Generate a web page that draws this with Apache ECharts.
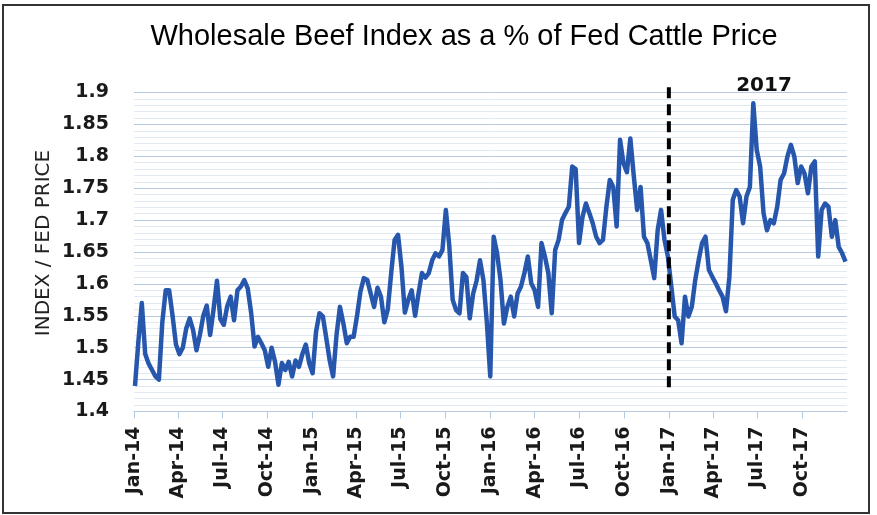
<!DOCTYPE html>
<html>
<head>
<meta charset="utf-8">
<script src="https://cdn.jsdelivr.net/npm/echarts@6/dist/echarts.min.js"></script>
<style>
html,body{margin:0;padding:0;background:#fff;}
#chart{width:877px;height:515px;}
</style>
</head>
<body>
<div id="chart"></div>
<script>
// Weekly observations, first week ending Fri 3 Jan 2014 (day 2 counted from 1 Jan 2014)
const firstWeekDay = 2;
const weekStep = 7;
const ratio = [
  1.44, 1.51, 1.57, 1.49, 1.475, 1.465, 1.455, 1.45, 1.54, 1.59, 1.59, 1.55, 1.505,
  1.49, 1.50, 1.53, 1.546, 1.528, 1.496, 1.52, 1.55, 1.566, 1.52, 1.56, 1.605, 1.545,
  1.536, 1.565, 1.58, 1.543, 1.59, 1.596, 1.606, 1.593, 1.555, 1.502, 1.517, 1.507, 1.496,
  1.47, 1.50, 1.478, 1.442, 1.476, 1.465, 1.478, 1.455, 1.48, 1.47, 1.49, 1.505, 1.476,
  1.46, 1.525, 1.554, 1.549, 1.515, 1.48, 1.455, 1.52, 1.564, 1.538, 1.507, 1.517, 1.517,
  1.55, 1.588, 1.609, 1.606, 1.585, 1.564, 1.594, 1.58, 1.54, 1.56, 1.617, 1.669, 1.677,
  1.627, 1.555, 1.575, 1.59, 1.55, 1.585, 1.617, 1.61, 1.617, 1.637, 1.648, 1.643, 1.653,
  1.716, 1.66, 1.575, 1.559, 1.554, 1.617, 1.611, 1.546, 1.585, 1.605, 1.637, 1.606, 1.54,
  1.455, 1.674, 1.648, 1.606, 1.538, 1.564, 1.58, 1.549, 1.585, 1.596, 1.617, 1.643, 1.601,
  1.59, 1.564, 1.664, 1.643, 1.617, 1.554, 1.653, 1.669, 1.70, 1.711, 1.721, 1.784, 1.78,
  1.664, 1.705, 1.726, 1.711, 1.695, 1.674, 1.664, 1.669, 1.721, 1.763, 1.752, 1.69, 1.826,
  1.789, 1.775, 1.828, 1.77, 1.716, 1.752, 1.674, 1.664, 1.637, 1.609, 1.684, 1.716, 1.669,
  1.643, 1.596, 1.549, 1.543, 1.507, 1.58, 1.549, 1.564, 1.606, 1.637, 1.664, 1.674, 1.622,
  1.611, 1.601, 1.59, 1.58, 1.557, 1.611, 1.732, 1.747, 1.737, 1.695, 1.737, 1.752, 1.883,
  1.81, 1.784, 1.711, 1.684, 1.70, 1.695, 1.721, 1.763, 1.773, 1.80, 1.818, 1.80, 1.758,
  1.784, 1.773, 1.742, 1.784, 1.792, 1.643, 1.716, 1.726, 1.721, 1.674, 1.70, 1.658, 1.648, 1.635
];
// Quarter starts, days counted from 1 Jan 2014
const tickDays = [0, 90, 181, 273, 365, 455, 546, 638, 730, 821, 912, 1004, 1096, 1186, 1277, 1369];
const tickLabels = ['Jan-14','Apr-14','Jul-14','Oct-14','Jan-15','Apr-15','Jul-15','Oct-15',
                    'Jan-16','Apr-16','Jul-16','Oct-16','Jan-17','Apr-17','Jul-17','Oct-17'];
const axisEndDay = 1461;
const yMin = 1.4, yMax = 1.9, yStep = 0.05;
const markerDay = 1096;          // 1 Jan 2017
const markerRange = [1.438, 1.909];
const markerText = '2017';

const seriesData = ratio.map((v, i) => [firstWeekDay + weekStep * i, v]);
const markerData = [[markerDay, markerRange[0]], [markerDay, markerRange[1]]];
const labelMap = {};
tickDays.forEach((d, i) => { labelMap[d] = tickLabels[i]; });

const chart = echarts.init(document.getElementById('chart'), null, {renderer: 'canvas'});
const gridColor = '#b3cadf';
const minorColor = '#e1eaf3';
const labelFont = 'DejaVu Sans';

chart.setOption({
  animation: false,
  backgroundColor: '#ffffff',
  grid: {left: 134, right: 30, top: 92.5, bottom: 103.5, containLabel: false},
  xAxis: {
    type: 'value',
    min: 0, max: axisEndDay,
    axisLine: {show: true, lineStyle: {color: gridColor, width: 1}},
    axisTick: {show: true, customValues: tickDays, length: 7, lineStyle: {color: gridColor}},
    axisLabel: {
      customValues: tickDays,
      rotate: 90, margin: 15,
      fontFamily: labelFont, fontWeight: 'bold', fontSize: 19, color: '#1a1a1a',
      formatter: v => labelMap[Math.round(v)] || ''
    },
    splitLine: {show: false}
  },
  yAxis: {
    type: 'value',
    min: yMin, max: yMax, interval: yStep,
    axisLine: {show: false},
    axisTick: {show: false},
    axisLabel: {
      margin: 25, fontFamily: labelFont, fontWeight: 'bold', fontSize: 19, color: '#1a1a1a',
      formatter: v => String(+v.toFixed(2))
    },
    splitLine: {show: true, lineStyle: {color: gridColor, width: 1}},
    minorTick: {show: false, splitNumber: 5},
    minorSplitLine: {show: true, lineStyle: {color: minorColor, width: 1}}
  },
  series: [
    {
      type: 'line',
      data: seriesData,
      showSymbol: false,
      symbol: 'none',
      lineStyle: {color: '#2757ad', width: 4.5, join: 'round'},
      z: 3
    },
    {
      type: 'line',
      data: markerData,
      showSymbol: false,
      symbol: 'none',
      clip: false,
      silent: true,
      lineStyle: {color: '#000', width: 4, type: [11, 6], cap: 'butt'},
      z: 4
    }
  ],
  graphic: [
    {type: 'text', x: 464, y: 37,
     style: {text: 'Wholesale Beef Index as a % of Fed Cattle Price', font: '29px "Liberation Sans"',
             fill: '#000', textAlign: 'center', textVerticalAlign: 'middle'}},
    {type: 'text', x: 764, y: 86,
     style: {text: markerText, font: 'bold 20px "DejaVu Sans"', fill: '#111',
             textAlign: 'center', textVerticalAlign: 'middle'}},
    {type: 'text', x: 44, y: 243, rotation: Math.PI / 2,
     style: {text: 'INDEX / FED PRICE', font: '20px "DejaVu Sans"', fill: '#222',
             textAlign: 'center', textVerticalAlign: 'middle'}},
    {type: 'rect', shape: {x: 3, y: 5, width: 866, height: 508},
     style: {fill: 'none', stroke: '#333', lineWidth: 2}, silent: true}
  ]
});
</script>
</body>
</html>
